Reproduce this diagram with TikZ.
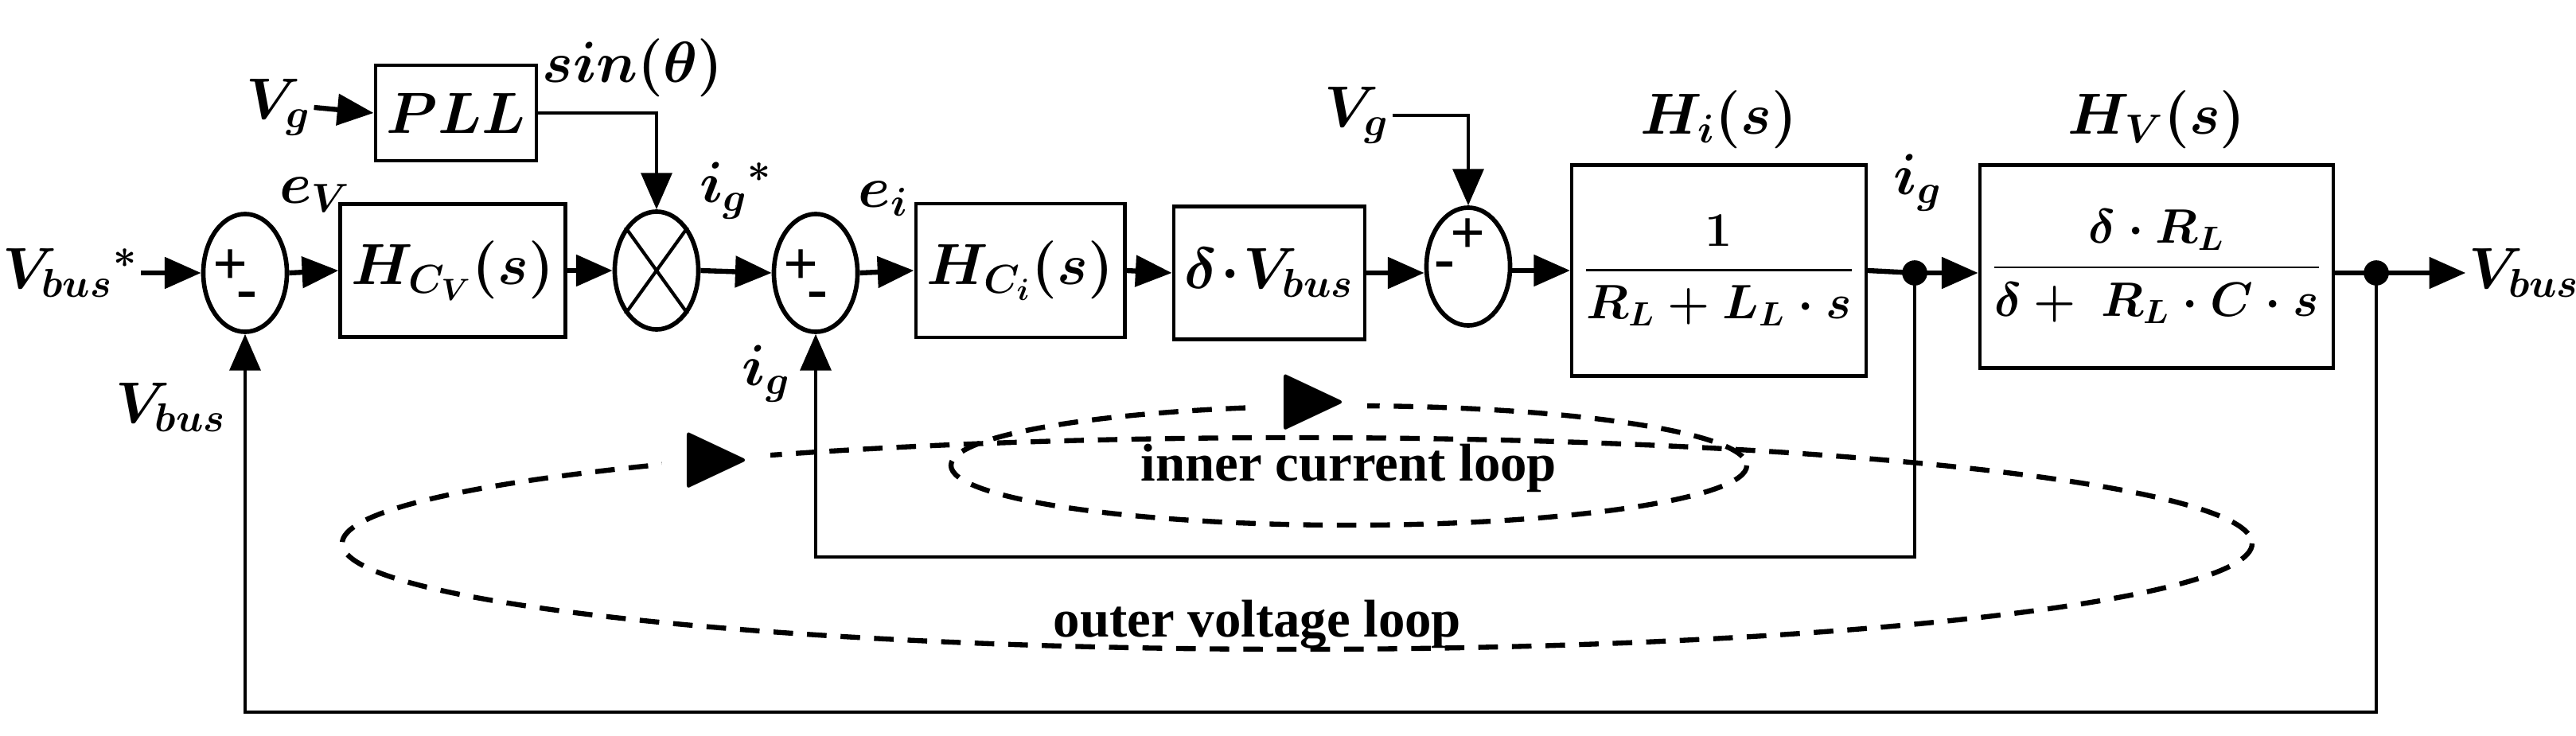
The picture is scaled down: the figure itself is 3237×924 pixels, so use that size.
\documentclass[tikz,border=0pt]{standalone}
\usepackage{amsmath}
\usepackage{amssymb}
\usepackage{fontspec}
\setmainfont{Liberation Serif}
\usepackage{tikz}
\usetikzlibrary{arrows.meta,shapes.geometric}
\tikzstyle{blk} = [draw=black, line width=1.2pt, rectangle, inner sep=4pt, font=\fontsize{22}{26}\selectfont\boldmath]
\tikzstyle{sumb} = [draw=black, line width=1.6pt, ellipse, minimum width=1.05cm, minimum height=1.48cm, inner sep=0pt]
\tikzstyle{lbl} = [inner sep=1pt, font=\fontsize{22}{26}\selectfont\boldmath]
\tikzstyle{sgn} = [inner sep=0pt, font=\fontsize{22}{22}\selectfont\bfseries]
\tikzstyle{sig} = [line width=1.8pt, -{Triangle[length=13pt,width=11pt]}]
\tikzstyle{fb} = [line width=1.2pt, -{Triangle[length=13pt,width=11pt]}]
\tikzstyle{loop} = [line width=1.8pt, dash pattern=on 7pt off 5pt]

\begin{document}
\begin{tikzpicture}[x=0.01cm,y=-0.01cm]
\useasboundingbox (0,0) rectangle (3237,924);
% blocks
\node [lbl] (vref) at (88,343) {$V_{bus}{}^{*}$};
\node [sumb] (s1) at (308,343) {};
\node [sgn] at (290,336) {+};
\node [sgn] at (310,378) {-};
\node [blk, minimum width=2.26cm, minimum height=1.67cm] (hcv) at (569,340) {$H_{C_V}(s)$};
\node [sumb] (mul) at (825,340) {};
\draw [line width=1.2pt] (mul.north east) -- (mul.south west) (mul.north west) -- (mul.south east);
\node [lbl] (vg1) at (350,135) {$V_g$};
\node [blk, minimum width=1.51cm, minimum height=1.2cm] (pll) at (573,142) {$PLL$};
\node [lbl] (sin) at (795,85) {$sin(\theta)$};
\node [sumb] (s2) at (1025,343) {};
\node [sgn] at (1007,336) {+};
\node [sgn] at (1027,378) {-};
\node [blk, minimum width=2.26cm, minimum height=1.68cm] (hci) at (1282,340) {$H_{C_i}(s)$};
\node [blk, minimum width=2.06cm, minimum height=1.67cm] (dv) at (1595,343) {$\delta\!\cdot\! V_{bus}$};
\node [sumb] (s3) at (1845,335) {};
\node [sgn] at (1845,297) {+};
\node [sgn] at (1815,340) {-};
\node [lbl] (vg2) at (1705,145) {$V_g$};
\node [blk, minimum width=3.33cm, minimum height=2.65cm, font=\fontsize{18}{22}\selectfont\boldmath] (hi) at (2160,340) {$\dfrac{1}{R_L+L_L\cdot s}$};
\node [blk, minimum width=3.95cm, minimum height=2.55cm, font=\fontsize{18}{22}\selectfont\boldmath] (hv) at (2710,335) {$\dfrac{\delta\cdot R_L}{\delta+\ R_L\cdot C\cdot s}$};
\node [lbl] at (2160,150) {$H_i(s)$};
\node [lbl] at (2710,150) {$H_V(s)$};
\fill (2406,343) circle (4.5pt) coordinate (d1);
\fill (2986,343) circle (4.5pt) coordinate (d2);
\node [lbl] (vout) at (3172,343) {$V_{bus}$};
% labels
\node [lbl] at (396,245) {$e_V$};
\node [lbl] at (925,240) {$i_g{}^{*}$};
\node [lbl] at (1110,250) {$e_i$};
\node [lbl] at (2410,230) {$i_g$};
\node [lbl] at (963,470) {$i_g$};
\node [lbl] at (215,512) {$V_{bus}$};
% signal path
\draw [sig] (vref.east) -- (s1.west);
\draw [sig] (s1.east) -- (hcv.west);
\draw [sig] (hcv.east) -- (mul.west);
\draw [sig] (vg1.east) -- (pll.west);
\draw [fb] (pll.east) -| (mul.north);
\draw [sig] (mul.east) -- (s2.west);
\draw [sig] (s2.east) -- (hci.west);
\draw [sig] (hci.east) -- (dv.west);
\draw [sig] (dv.east) -- (dv.east -| s3.west);
\draw [fb] (vg2.east) -| (s3.north);
\draw [sig] (s3.east |- hi.west) -- (hi.west);
\draw [line width=1.8pt] (hi.east) -- (d1);
\draw [sig] (d1) -- (hv.west |- d1);
\draw [line width=1.8pt] (hv.east |- d2) -- (d2);
\draw [sig] (d2) -- (vout.west);
% feedback
\draw [fb] (d1) -- (2406,700) -| (s2.south);
\draw [fb] (d2) -- (2986,895) -| (s1.south);
% loops
\draw [loop] (1695,585) ellipse (500 and 75);
\node [inner sep=6pt, fill=white, font=\fontsize{34}{34}\selectfont] at (1650,505) {$\blacktriangleright$};
\node [font=\fontsize{19}{22}\selectfont\bfseries] at (1695,588) {inner current loop};
\draw [loop] (1630,683) ellipse (1200 and 133);
\node [inner sep=6pt, fill=white, font=\fontsize{34}{34}\selectfont] at (900,578) {$\blacktriangleright$};
\node [font=\fontsize{19}{22}\selectfont\bfseries] at (1580,785) {outer voltage loop};
\end{tikzpicture}
\end{document}
